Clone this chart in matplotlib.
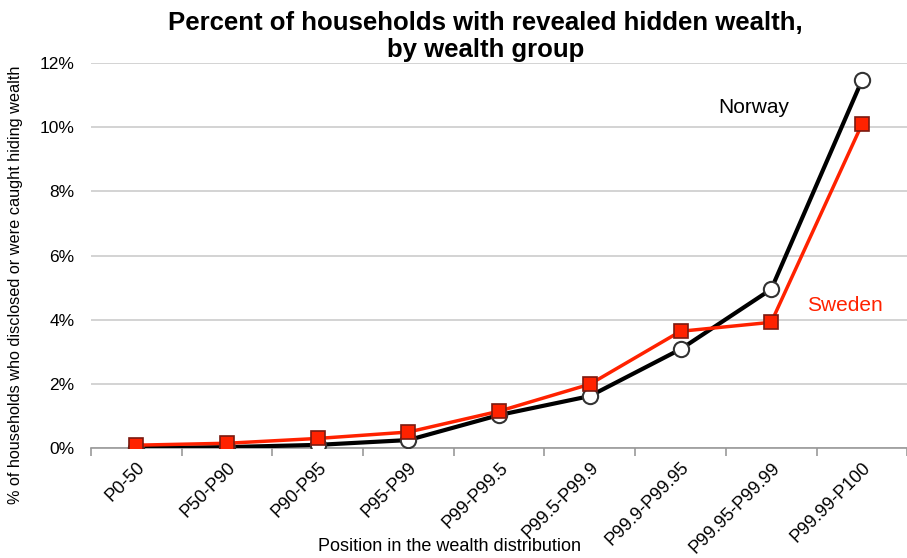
import matplotlib
matplotlib.use("Agg")
import matplotlib.pyplot as plt
from matplotlib.ticker import FuncFormatter

plt.rcParams["font.family"] = ["Liberation Sans", "DejaVu Sans"]

groups = ["P0-50", "P50-P90", "P90-P95", "P95-P99", "P99-P99.5",
          "P99.5-P99.9", "P99.9-P99.95", "P99.95-P99.99", "P99.99-P100"]
norway = [0.0, 0.03, 0.1, 0.25, 1.03, 1.62, 3.08, 4.95, 11.46]
sweden = [0.09, 0.15, 0.3, 0.5, 1.15, 1.99, 3.64, 3.92, 10.09]

fig = plt.figure(figsize=(9.07, 5.58), dpi=100)
ax = fig.add_axes([0.1003, 0.197, 0.9, 0.69])
x = range(len(groups))

ax.plot(x, norway, color="black", lw=3, marker="o", ms=11,
        mfc="white", mec="#333333", mew=1.5, zorder=3)
ax.plot(x, sweden, color="#ff2200", lw=2.5, marker="s", ms=10,
        mfc="#ff2200", mec="#7a1a10", mew=1.2, zorder=4)

ax.set_xlim(-0.5, 8.5)
ax.set_ylim(0, 12)
ax.set_yticks(range(0, 13, 2))
ax.yaxis.set_major_formatter(FuncFormatter(lambda v, p: f"{v:.0f}%"))
ax.grid(axis="y", color="#cccccc", lw=1.2)
ax.set_axisbelow(True)
for s in ["top", "right", "left"]:
    ax.spines[s].set_visible(False)
ax.spines["bottom"].set_color("#999999")
ax.spines["bottom"].set_linewidth(1.2)
ax.tick_params(axis="y", length=0, labelsize=12.5, pad=12)

# tick marks sit between the categories, labels under the points
ax.set_xticks([i + 0.5 for i in range(-1, len(groups))])
ax.set_xticklabels([])
ax.tick_params(axis="x", which="major", length=6, color="#999999", width=1.2)
ax.set_xticks(list(x), minor=True)
ax.set_xticklabels(groups, minor=True, rotation=45, ha="right",
                   rotation_mode="anchor", fontsize=13)
ax.tick_params(axis="x", which="minor", length=0, pad=8)
for lab in ax.get_xticklabels(minor=True):
    lab.set_x(lab.get_position()[0])

fig.text(0.017, 0.489, "% of households who disclosed or were caught hiding wealth",
         rotation=90, ha="center", va="center", fontsize=11.7)
fig.text(0.496, 0.013, "Position in the wealth distribution", ha="center",
         fontsize=13)
fig.text(0.535, 0.935, "Percent of households with revealed hidden wealth,\nby wealth group",
         ha="center", va="center", fontsize=18.5, fontweight="bold", linespacing=1.15)

ax.text(6.42, 10.6, "Norway", fontsize=15, color="black", ha="left", va="center")
ax.text(7.39, 4.45, "Sweden", fontsize=15, color="#ff2200", ha="left", va="center")

fig.savefig("out.png", dpi=100)
